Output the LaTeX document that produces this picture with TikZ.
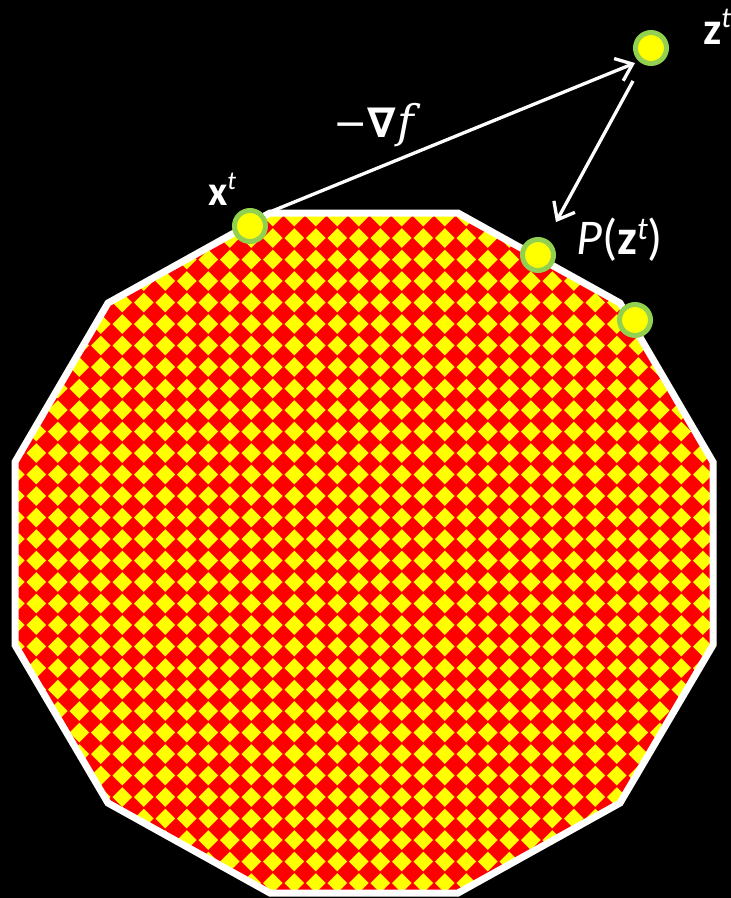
\documentclass[tikz,border=0pt]{standalone}
\usepackage{fontspec}
\setmainfont{Carlito}
\newfontfamily\dvsans{DejaVu Sans}
\newfontfamily\dvserif{DejaVu Serif}
\usetikzlibrary{arrows.meta}
\definecolor{dotgreen}{HTML}{92D050}
\definecolor{patred}{HTML}{FF0000}
\definecolor{patyellow}{HTML}{FFFF00}
\begin{document}
\begin{tikzpicture}[x=1pt,y=-1pt,
  dot/.style={circle,fill=patyellow,draw=dotgreen,line width=5pt,minimum size=31pt,inner sep=0pt},
  arr/.style={white,line width=3.3pt,-{Straight Barb[length=15pt,width=24pt]}},
  lbl/.style={white,inner sep=0pt}]
\fill[black] (0,0) rectangle (731,898);
\useasboundingbox (0,0) rectangle (731,898);
\begin{scope}
\clip (270,213) -- (458,213) -- (620,303) -- (713,462) -- (713,645) -- (620,803) -- (458,893) -- (270,893) -- (108,803) -- (15,645) -- (15,462) -- (108,303) -- cycle;
\fill[patred] (0,200) rectangle (731,898);
\foreach \i in {-9,...,24}{\foreach \j in {-10,...,22}{
  \fill[patyellow] ({208.3+21.5*\i},{410+21.5*\j}) +(0,-9.8) -- +(9.8,0) -- +(0,9.8) -- +(-9.8,0) -- cycle;
}}
\end{scope}
\draw[white,line width=7pt,line join=miter] (270,213) -- (458,213) -- (620,303) -- (713,462) -- (713,645) -- (620,803) -- (458,893) -- (270,893) -- (108,803) -- (15,645) -- (15,462) -- (108,303) -- cycle;
\node[dot] (xt) at (250,226) {};
\node[dot] (pz) at (538,255) {};
\node[dot] (p3) at (635,320) {};
\node[dot] (zt) at (651,48) {};
\coordinate (g) at (635,63);
\draw[arr] (xt.40) -- (g);
\draw[arr, shorten <=19.5pt, shorten >=19.5pt] (zt) -- (pz);
\node[lbl, anchor=base west] (xl) at (208,205) {\fontsize{42}{42}\selectfont\textbf{x}\raisebox{16pt}{\fontsize{26}{26}\selectfont\itshape t}};
\node[lbl, anchor=base west] (gl) at (333,137) {{\dvsans\fontsize{41}{41}\selectfont −}{\dvsans\bfseries\fontsize{41}{41}\selectfont ∇}\,{\dvserif\itshape\fontsize{45}{45}\selectfont f}};
\node[lbl, anchor=base west] (pl) at (576,254) {\fontsize{50}{50}\selectfont\itshape P\upshape(\textbf{z}\raisebox{15pt}{\fontsize{32}{32}\selectfont\itshape t})};
\node[lbl, anchor=base west] (zl) at (703,44) {\fontsize{46}{46}\selectfont\textbf{z}\raisebox{17pt}{\fontsize{29}{29}\selectfont\itshape t}};
\end{tikzpicture}
\end{document}
